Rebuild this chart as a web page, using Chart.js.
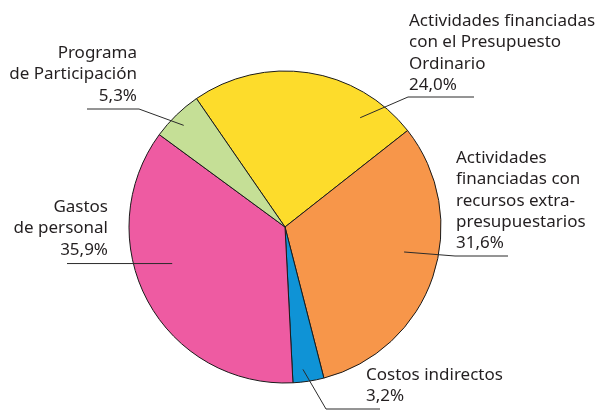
<!DOCTYPE html>
<html>
<head>
<meta charset="utf-8">
<script src="https://cdn.jsdelivr.net/npm/chart.js@4.4.1/dist/chart.umd.min.js"></script>
<style>
  html, body { margin: 0; padding: 0; background: #ffffff; }
  #wrap { width: 601px; height: 412px; }
</style>
</head>
<body>
<div id="wrap"><canvas id="c" width="601" height="412"></canvas></div>
<script>
// ---- data ----
const categories = [
  "Actividades financiadas con el Presupuesto Ordinario",
  "Actividades financiadas con recursos extra-presupuestarios",
  "Costos indirectos",
  "Gastos de personal",
  "Programa de Participación"
];
const values = [24.0, 31.6, 3.2, 35.9, 5.3];
const valueLabels = ["24,0%", "31,6%", "3,2%", "35,9%", "5,3%"];
const labelLines = [
  ["Actividades financiadas", "con el Presupuesto", "Ordinario"],
  ["Actividades", "financiadas con", "recursos extra-", "presupuestarios"],
  ["Costos indirectos"],
  ["Gastos", "de personal"],
  ["Programa", "de Participación"]
];

// ---- styles / layout ----
const colors = ["#FDDC2B", "#F7964A", "#0F93D6", "#EE5BA2", "#C5DF96"];
const FONT = '17px "Noto Sans", "Open Sans", sans-serif';
const LINE_H = 21.3;
// anchor: fraction along slice angle, fraction of radius; text: x, first baseline, align; leader path after anchor
const labelLayout = [
  { f: 0.80, r: 0.85, tx: 409, ty: 26, align: "left",  path: [[408, 97], [474, 97]] },
  { f: 0.44, r: 0.78, tx: 456, ty: 163, align: "left", path: [[455, 256], [508, 256]] },
  { f: 0.63, r: 0.92, tx: 366, ty: 380, align: "left", path: [[326, 409], [380, 409]] },
  { f: 0.58, r: 0.76, tx: 108, ty: 212, align: "right", path: [[67, null]] },
  { f: 0.46, r: 0.92, tx: 137, ty: 58, align: "right", path: [[139, 109], [87, 109]] }
];

const labelPlugin = {
  id: "outLabels",
  afterDraw(chart) {
    const ctx = chart.ctx;
    const arcs = chart.getDatasetMeta(0).data;
    ctx.save();
    ctx.font = FONT;
    ctx.fillStyle = "#231F20";
    ctx.textBaseline = "alphabetic";
    arcs.forEach((arc, i) => {
      const L = labelLayout[i];
      const p = arc.getProps(["x", "y", "startAngle", "endAngle", "outerRadius"], true);
      const a = p.startAngle + L.f * (p.endAngle - p.startAngle);
      const ax = p.x + Math.cos(a) * p.outerRadius * L.r;
      const ay = p.y + Math.sin(a) * p.outerRadius * L.r;
      ctx.beginPath();
      ctx.strokeStyle = "#2b2b2b";
      ctx.lineWidth = 1;
      ctx.moveTo(ax, ay);
      L.path.forEach(pt => ctx.lineTo(pt[0], pt[1] === null ? ay : pt[1]));
      ctx.stroke();
      const lines = labelLines[i].concat([valueLabels[i]]);
      ctx.textAlign = L.align;
      lines.forEach((t, k) => ctx.fillText(t, L.tx, L.ty + k * LINE_H));
    });
    ctx.restore();
  }
};

new Chart(document.getElementById("c"), {
  type: "pie",
  data: {
    labels: categories,
    datasets: [{
      data: values,
      backgroundColor: colors,
      borderColor: "#1a1a1a",
      borderWidth: 1,
      radius: 156,
      hoverOffset: 0
    }]
  },
  options: {
    responsive: false,
    animation: false,
    rotation: -34.6,
    layout: { padding: { left: 0, right: 31, top: 42, bottom: 0 } },
    plugins: { legend: { display: false }, tooltip: { enabled: false } }
  },
  plugins: [labelPlugin]
});
</script>
</body>
</html>
